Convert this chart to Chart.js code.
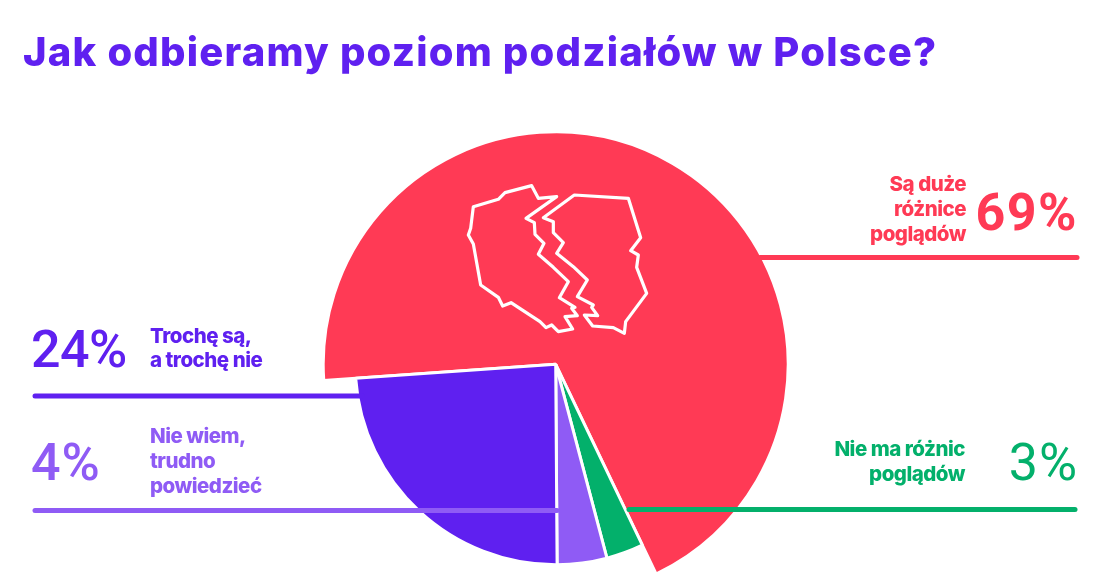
<!DOCTYPE html>
<html lang="pl">
<head>
<meta charset="utf-8">
<script src="https://cdn.jsdelivr.net/npm/chart.js@4"></script>
<style>
html,body{margin:0;padding:0;background:#fff;overflow:hidden}
canvas{display:block}
</style>
</head>
<body>
<canvas id="c" width="1106" height="572" style="width:1106px;height:572px"></canvas>
<script>
const titleText = "Jak odbieramy poziom podziałów w Polsce?";
const categories = ["Są duże różnice poglądów", "Nie ma różnic poglądów", "Nie wiem, trudno powiedzieć", "Trochę są, a trochę nie"];
const values = [69, 3, 4, 24];
const colors = ["#FF3A55", "#03B06B", "#8F5BF5", "#5F20F0"];
const radii = [232.5, 200.5, 200.5, 200.5];

const labelLines = [
  ["Są duże", "różnice", "poglądów"],
  ["Nie ma różnic", "poglądów"],
  ["Nie wiem,", "trudno", "powiedzieć"],
  ["Trochę są,", "a trochę nie"]
];
const labelX = [966, 965, 150, 150];
const labelBase = [191, 456, 443, 343];
const labelAlign = ["right", "right", "left", "left"];
const labelStep = [25, 25, 25, 24];
const pctX = [1078, 1078, 31, 31];
const pctBase = [230, 480, 480, 367];
const pctWeight = [700, 400, 500, 500];
const pctSpacing = ["1.5px", "1px", "1px", "-0.6px"];
const ruleY = [257.5, 509.5, 510.5, 396];
const ruleFrom = [760, 629, 35, 35];
const ruleTo = [1077, 1075, 557, 362];

const iconLeft = [[100,110],[175,88],[195,68],[275,47],[295,85],[350,80],[258,145],[283,158],[285,193],[312,220],[295,253],[340,292],[385,335],[358,383],[405,412],[395,415],[412,437],[375,440],[398,477],[355,485],[335,465],[318,473],[300,455],[213,398],[188,408],[175,382],[122,345],[100,222],[85,195],[92,175]];
const iconRight = [[403,75],[565,85],[602,203],[572,242],[595,255],[590,292],[620,370],[557,455],[553,490],[520,473],[458,468],[433,435],[473,437],[455,412],[460,405],[412,380],[442,330],[400,290],[350,250],[370,218],[340,188],[340,155],[310,143]];

const sliceRadii = {
  id: "sliceRadii",
  afterDatasetsUpdate(chart) {
    chart.getDatasetMeta(0).data.forEach((arc, i) => { arc.outerRadius = radii[i]; });
  }
};

const overlay = {
  id: "overlay",
  afterDatasetsDraw(chart) {
    const ctx = chart.ctx;
    ctx.save();
    // map outline
    ctx.strokeStyle = "#fff";
    ctx.lineWidth = 3.2;
    ctx.lineJoin = "round";
    [iconLeft, iconRight].forEach(poly => {
      ctx.beginPath();
      poly.forEach(([x, y], i) => {
        const px = 440 + x / 3, py = 170 + y / 3;
        if (i) ctx.lineTo(px, py); else ctx.moveTo(px, py);
      });
      ctx.closePath();
      ctx.stroke();
    });
    // rules
    ctx.lineWidth = 5;
    ctx.lineCap = "round";
    categories.forEach((_, i) => {
      ctx.strokeStyle = colors[i];
      ctx.beginPath();
      ctx.moveTo(ruleFrom[i], ruleY[i]);
      ctx.lineTo(ruleTo[i], ruleY[i]);
      ctx.stroke();
    });
    // title
    ctx.textBaseline = "alphabetic";
    ctx.fillStyle = colors[3];
    ctx.textAlign = "left";
    ctx.font = "800 40px Inter";
    ctx.letterSpacing = "1.2px";
    ctx.fillText(titleText, 23, 66);
    // labels
    categories.forEach((_, i) => {
      ctx.fillStyle = colors[i];
      ctx.textAlign = labelAlign[i];
      ctx.font = "800 20.5px Inter";
      ctx.letterSpacing = "-0.5px";
      labelLines[i].forEach((t, k) => ctx.fillText(t, labelX[i], labelBase[i] + k * labelStep[i]));
      ctx.textAlign = i < 2 ? "right" : "left";
      ctx.font = pctWeight[i] + " 52px Roboto";
      ctx.letterSpacing = pctSpacing[i];
      ctx.fillText(values[i] + "%", pctX[i], pctBase[i]);
    });
    ctx.restore();
  }
};

new Chart(document.getElementById("c"), {
  type: "pie",
  data: {
    labels: categories,
    datasets: [{
      data: values,
      backgroundColor: colors,
      borderColor: "#fff",
      borderWidth: 3,
      radius: 232.5
    }]
  },
  options: {
    responsive: false,
    animation: false,
    rotation: -94,
    layout: { padding: { top: 156.6, bottom: 0, left: 5.4, right: 0 } },
    plugins: { legend: { display: false }, tooltip: { enabled: false }, title: { display: false } }
  },
  plugins: [sliceRadii, overlay]
});
</script>
</body>
</html>
